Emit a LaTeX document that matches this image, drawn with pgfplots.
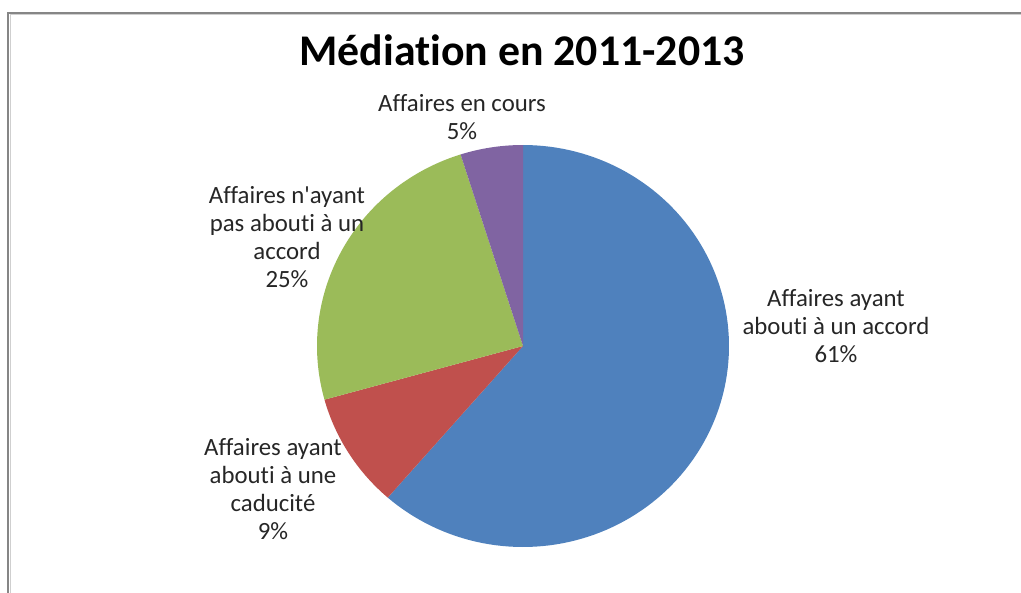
\documentclass[border=0pt]{standalone}
\usepackage{pgfplots}
\usepackage{pgfplotstable}
\pgfplotsset{compat=1.18}
\usepackage{fontspec}
\setmainfont[Ligatures={NoCommon}]{Carlito}
\definecolor{cblue}{HTML}{4F81BD}
\definecolor{cred}{HTML}{C0504D}
\definecolor{cgreen}{HTML}{9BBB59}
\definecolor{cpurple}{HTML}{8064A2}
\definecolor{frame}{HTML}{868686}
% share of each category (percent), clockwise from 12 o'clock
\pgfplotstableread{
start  stop    value
90     -131.04 61.4
-131.04 -164.52 9.3
-164.52 -252.36 24.4
-252.36 -270    4.9
}\piedata
\newcommand{\cx}{523}
\newcommand{\cy}{346}
\newcommand{\rx}{206}
\newcommand{\ry}{201}
\begin{document}
\begin{tikzpicture}
\begin{axis}[
  scale only axis, width=510.5pt, height=296.5pt,
  xmin=0, xmax=1021, ymin=0, ymax=593, y dir=reverse,
  hide axis, clip=false,
]
% frame
\draw[frame, line width=1.2pt] (axis cs:8,593) -- (axis cs:8,13) -- (axis cs:1021,13);
\draw[frame!40, line width=0.5pt] (axis cs:10.5,593) -- (axis cs:10.5,15) -- (axis cs:1021,15);
% slices
\pgfplotsforeachungrouped \i/\col in {0/cblue,1/cred,2/cgreen,3/cpurple}{
  \pgfplotstablegetelem{\i}{start}\of\piedata \let\a=\pgfplotsretval
  \pgfplotstablegetelem{\i}{stop}\of\piedata \let\b=\pgfplotsretval
  \edef\temp{\noexpand\addplot[fill=\col, draw=none, domain=\a:\b, samples=120, variable=\noexpand\t]
    ({\cx+\rx*cos(\noexpand\t)},{\cy-\ry*sin(\noexpand\t)}) -- (axis cs:\cx,\cy) -- cycle;}
  \temp
}
% labels
\node[font=\bfseries\fontsize{21.9}{25}\selectfont] at (axis cs:522,50) {Médiation en 2011-2013};
\begin{scope}[every node/.style={align=center, font=\fontsize{12.4}{14}\selectfont, text=black!85}]
\node at (axis cs:462,117) {Affaires en cours\\5\%};
\node at (axis cs:287,237) {Affaires n\textquotesingle ayant\\pas abouti à un\\accord\\25\%};
\node at (axis cs:836,326) {Affaires ayant\\abouti à un accord\\61\%};
\node at (axis cs:273,489) {Affaires ayant\\abouti à une\\caducité\\9\%};
\end{scope}
\end{axis}
\pgfresetboundingbox
\path[use as bounding box] (current axis.south west) rectangle (current axis.north east);
\end{tikzpicture}
\end{document}
